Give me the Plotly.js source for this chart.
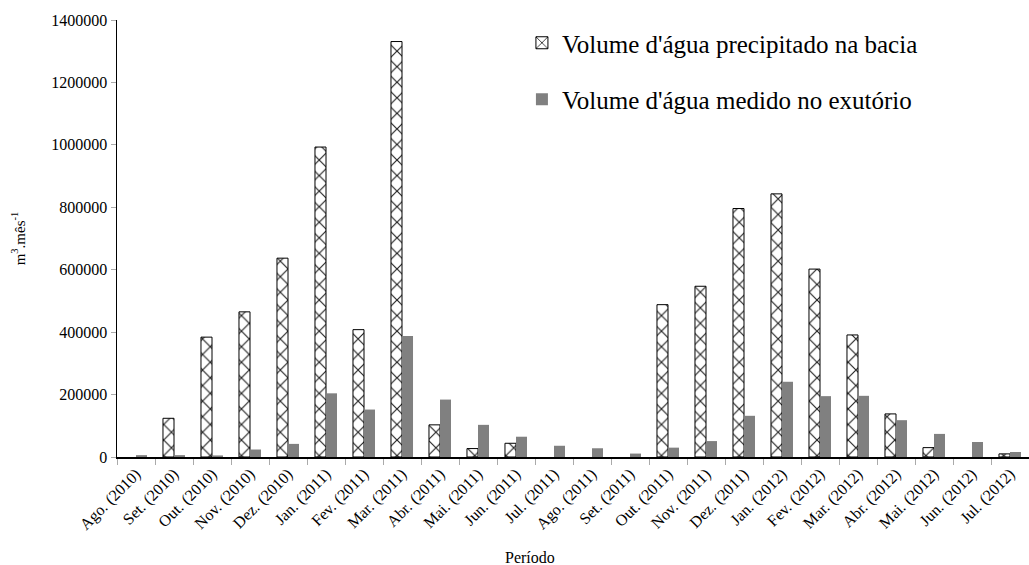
<!DOCTYPE html>
<html>
<head>
<meta charset="utf-8">
<script src="https://cdn.plot.ly/plotly-3.0.1.min.js"></script>
<style>html,body{margin:0;padding:0;background:#fff;}#chart{width:1029px;height:565px;}</style>
</head>
<body>
<div id="chart"></div>
<script>
const categories = ["Ago. (2010)","Set. (2010)","Out. (2010)","Nov. (2010)","Dez. (2010)","Jan. (2011)","Fev. (2011)","Mar. (2011)","Abr. (2011)","Mai. (2011)","Jun. (2011)","Jul. (2011)","Ago. (2011)","Set. (2011)","Out. (2011)","Nov. (2011)","Dez. (2011)","Jan. (2012)","Fev. (2012)","Mar. (2012)","Abr. (2012)","Mai. (2012)","Jun. (2012)","Jul. (2012)"];
const precipitado = [0,124000,384000,465000,637000,993000,408000,1331000,103000,27000,44000,0,0,0,488000,547000,796000,843000,602000,391000,138000,30000,0,10000];
const medido = [6000,6000,5000,24000,42000,204000,152000,388000,184000,103000,65000,36000,28000,11000,30000,51000,132000,241000,195000,196000,118000,74000,48000,16000];
const seriesNames = ["Volume d'água precipitado na bacia","Volume d'água medido no exutório"];
const yTitle = "m<sup>3</sup>.mês<sup>-1</sup>";
const xTitle = "Período";

const font = '"Liberation Serif", "Times New Roman", serif';
const noZero = arr => arr.map(v => (v === 0 ? null : v));
const traces = [
  {type:'bar', x:categories, y:noZero(precipitado), name:seriesNames[0], legendgroup:'a',
   marker:{color:'white', line:{color:'black', width:1},
     pattern:{shape:'x', fgcolor:'#222', bgcolor:'white', size:11, solidity:0.2}}},
  {type:'bar', x:categories, y:noZero(medido), name:seriesNames[1], legendgroup:'b',
   marker:{color:'#808080', line:{width:0}}}
];
const layout = {
  width:1029, height:565,
  margin:{l:117, r:0, t:20, b:108},
  paper_bgcolor:'white', plot_bgcolor:'white',
  font:{family:font, color:'black', size:16},
  barmode:'group', bargap:0.42, bargroupgap:0,
  showlegend:true,
  legend:{x:0.444, y:1.0, xanchor:'left', yanchor:'top', font:{family:font, size:25, color:'black'},
    traceorder:'grouped', tracegroupgap:21, bgcolor:'rgba(0,0,0,0)'},
  xaxis:{type:'category', tickangle:-45, showline:true, linecolor:'black', linewidth:1.5,
    ticks:'outside', tickson:'boundaries', ticklen:6, tickcolor:'#aaa', showgrid:false,
    tickfont:{family:font, size:16}, automargin:false},
  yaxis:{range:[0,1400000], dtick:200000, tickformat:'d', showline:true, linecolor:'black', linewidth:1.5,
    ticks:'outside', ticklen:5, tickcolor:'#aaa', showgrid:false, zeroline:false,
    tickfont:{family:font, size:16}, automargin:false,
    title:{text:yTitle, font:{family:font, size:15}, standoff:22}},
  annotations:[{text:xTitle, xref:'paper', yref:'paper', x:0.453, y:0, yshift:-100, xanchor:'center', yanchor:'middle',
    showarrow:false, font:{family:font, size:16}}]
};
Plotly.newPlot('chart', traces, layout, {displayModeBar:false, staticPlot:true});
</script>
</body>
</html>
